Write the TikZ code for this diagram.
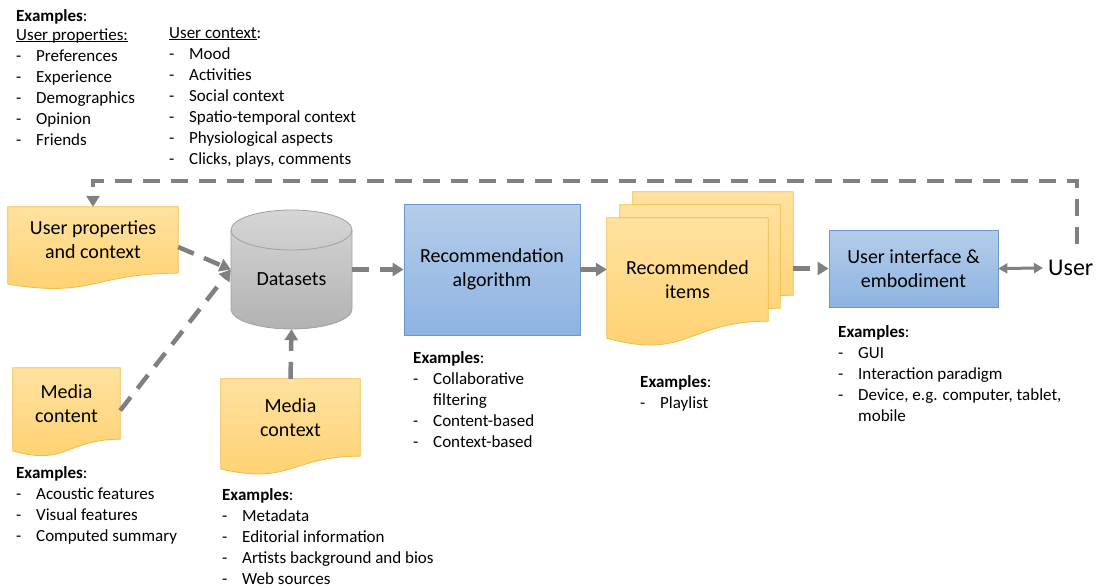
\documentclass[tikz,border=0pt]{standalone}
\usepackage{fontspec}
\setmainfont{Carlito}
\usepackage{array}
\usetikzlibrary{arrows.meta,calc}

\definecolor{docTop}{RGB}{255,226,160}
\definecolor{docBot}{RGB}{255,208,110}
\definecolor{docLine}{RGB}{242,186,66}
\definecolor{blueTop}{RGB}{180,205,234}
\definecolor{blueBot}{RGB}{142,179,226}
\definecolor{blueLine}{RGB}{108,150,204}
\definecolor{cylTop}{RGB}{214,214,214}
\definecolor{cylBot}{RGB}{178,178,178}
\definecolor{cylLine}{RGB}{160,160,160}
\definecolor{arrGray}{RGB}{128,128,128}

\newcommand\listfont{\fontsize{17}{21}\selectfont}
\newcommand\boxfont{\fontsize{20}{24}\selectfont}
\newcommand\exlist[1]{\begin{tabular}[t]{@{}p{20pt}@{}l@{}}#1\end{tabular}}
\newcommand\exhead{\multicolumn{2}{@{}l@{}}{\textbf{Examples}:}\\}
\newcommand\exunder[1]{\underline{\smash{#1}}}
\newcommand\docshape[2]{%
  \path[docfill] (#1.north west) -- (#1.north east) -- (#1.south east)
    .. controls (#1.south) and ($(#1.south)+(0,{0.381*#2})$)
    .. ($(#1.south west)+(0,{0.165*#2})$) -- cycle;}

\pgfdeclarelayer{background}
\pgfsetlayers{background,main}

\tikzset{
  docfill/.style={draw=docLine, line width=0.8pt, top color=docTop, bottom color=docBot},
  doc/.style={font=\boxfont, align=center, inner sep=0pt},
  box/.style={draw=blueLine, line width=0.8pt, top color=blueTop, bottom color=blueBot,
    font=\boxfont, align=center},
  exnode/.style={font=\listfont, inner sep=0pt, anchor=base west},
  darr/.style={line width=4.5pt, arrGray, dash pattern=on 17pt off 11pt,
    -{Triangle[length=11pt,width=13pt]}},
  sarr/.style={line width=4.5pt, arrGray, -{Triangle[length=11pt,width=13pt]}},
  barr/.style={line width=3pt, arrGray,
    {Triangle[length=9pt,width=10pt]}-{Triangle[length=9pt,width=10pt]}}
}

\begin{document}
\begin{tikzpicture}[x=1pt,y=-1pt]
  \useasboundingbox (0,0) rectangle (1103,587);

  % sources
  \node[doc, minimum width=170pt, minimum height=66pt] (uprop) at (93,240) {User properties\\and context};
  \node[doc, minimum width=107pt, minimum height=71pt] (mcontent) at (66.5,403.5) {Media\\content};
  \node[doc, minimum width=139pt, minimum height=77pt] (mcontext) at (290.5,417.5) {Media\\context};
  \node[minimum width=121pt, minimum height=119pt, inner sep=0pt,
    label={[font=\boxfont, yshift=-10pt]center:Datasets}] (data) at (291.5,269.5) {};

  % pipeline
  \node[box, minimum width=176pt, minimum height=131pt] (algo) at (492,269.5) {Recommendation\\algorithm};
  \node[minimum width=160pt, minimum height=103pt, inner sep=0pt] (items3) at (713,243.5) {};
  \node[minimum width=160pt, minimum height=103pt, inner sep=0pt] (items2) at (700,256.5) {};
  \node[minimum width=161pt, minimum height=103pt, inner sep=0pt,
    label={[doc, yshift=-10pt]center:Recommended\\items}] (items1) at (687.5,269.5) {};
  \node[box, minimum width=169pt, minimum height=77pt] (ui) at (913.5,268.5) {User interface \&\\embodiment};
  \node[font=\fontsize{24}{29}\selectfont, inner xsep=5pt, inner ysep=16pt, anchor=west] (user) at (1043,268) {User};

  \begin{pgfonlayer}{background}
    \docshape{uprop}{66}
    \docshape{mcontent}{71}
    \docshape{mcontext}{77}
    \docshape{items3}{103}
    \docshape{items2}{103}
    \docshape{items1}{103}
    \path[draw=cylLine, line width=0.8pt, top color=cylTop, bottom color=cylBot]
      (231,230) -- (231,309) arc[start angle=180, end angle=360, x radius=60.5pt, y radius=20pt]
      -- (352,230) arc[start angle=0, end angle=180, x radius=60.5pt, y radius=20pt] -- cycle;
    \draw[cylLine, line width=0.8pt] (231,230) arc[start angle=180, end angle=360, x radius=60.5pt, y radius=20pt];
  \end{pgfonlayer}

  % examples
  \node[exnode] (extop) at (16,21) {\textbf{Examples}:};
  \node[exnode] (exuprop) at (16,40) {\exlist{\multicolumn{2}{@{}l@{}}{\exunder{User properties:}}\\
    - & Preferences\\ - & Experience\\ - & Demographics\\ - & Opinion\\ - & Friends}};
  \node[exnode] (exuctx) at (169,38) {\exlist{\multicolumn{2}{@{}l@{}}{\exunder{User context}:}\\
    - & Mood\\ - & Activities\\ - & Social context\\ - & Spatio-temporal context\\
    - & Physiological aspects\\ - & Clicks, plays, comments}};
  \node[exnode] (exmcontent) at (16,478) {\exlist{\exhead
    - & Acoustic features\\ - & Visual features\\ - & Computed summary}};
  \node[exnode] (exmcontext) at (222,500) {\exlist{\exhead
    - & Metadata\\ - & Editorial information\\ - & Artists background and bios\\ - & Web sources}};
  \node[exnode] (exalgo) at (413,363) {\exlist{\exhead
    - & Collaborative\\ & filtering\\ - & Content-based\\ - & Context-based}};
  \node[exnode] (exitems) at (640,387) {\exlist{\exhead - & Playlist}};
  \node[exnode] (exui) at (838,337) {\exlist{\exhead
    - & GUI\\ - & Interaction paradigm\\ - & Device, e.g. computer, tablet,\\ & mobile}};

  % connectors
  \coordinate (fbr) at (1077,181);
  \draw[darr] ([yshift=-7pt]uprop.east) -- (data.west);
  \draw[darr] ([yshift=-7pt]mcontent.east) -- (data.west);
  \draw[darr] (mcontext.north) -- (data.south);
  \draw[darr] (data.east) -- (algo.west);
  \draw[sarr] (algo.east) -- (algo.east -| items1.west);
  \draw[darr] (items3.east |- ui.west) -- (ui.west);
  \draw[barr] (ui.east) -- (user.west);
  \draw[darr] (user.north -| fbr) -- (fbr) -| (uprop.north);
\end{tikzpicture}
\end{document}
